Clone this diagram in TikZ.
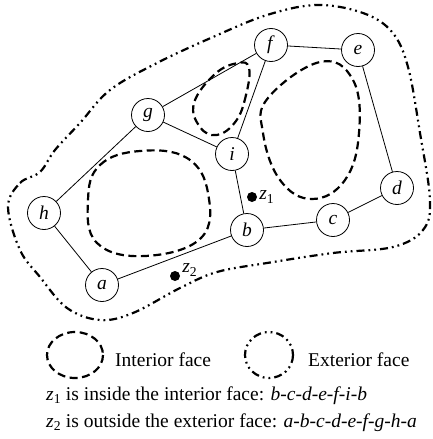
\documentclass[tikz,border=0pt]{standalone}
\usepackage{fontspec}
\setmainfont{Liberation Serif}
\usepackage{tikz}

\tikzset{
  vertex/.style={draw,circle,line width=0.8pt,minimum size=33pt,inner sep=0pt,fill=white},
  edge/.style={line width=0.8pt},
  inface/.style={line width=2.2pt,dash pattern=on 8pt off 4.5pt},
  exface/.style={line width=2.2pt,dash pattern=on 8pt off 4pt on 1.8pt off 4pt on 1.8pt off 4pt},
  point/.style={circle,fill,inner sep=0pt,minimum size=10pt},
}

\begin{document}
\begin{tikzpicture}[x=1pt,y=-1pt,font=\fontsize{19.5}{24}\selectfont]
  \useasboundingbox (0,0) rectangle (432,439);

  % exterior face
  \draw[exface] plot[smooth cycle,tension=0.6] coordinates {
    (8,207) (20,183) (40,172) (55,150) (80,123) (110,90) (157,63) (213,37)
    (267,15) (317,5) (363,13) (392,32) (408,67) (420,133) (430,200)
    (423,230) (393,247) (333,253) (267,263) (217,272) (180,288)
    (133,313) (100,320) (67,308) (40,277) (20,250)};

  % interior faces
  \draw[inface] plot[smooth cycle,tension=0.7] coordinates {
    (88,200) (100,165) (140,151) (187,158) (208,193) (201,238) (145,256) (97,243)};
  \draw[inface] plot[smooth cycle,tension=0.7] coordinates {
    (249,68) (246,95) (236,121) (217,135) (200,127) (194,103) (215,74) (238,63)};
  \draw[inface] plot[smooth cycle,tension=0.7] coordinates {
    (320,62) (353,80) (359,133) (345,180) (312,199) (280,180) (263,133) (268,98)};

  % vertices
  \node[vertex] (f) at (271,45)  {\textit{f}};
  \node[vertex] (e) at (358,50)  {\textit{e}};
  \node[vertex] (g) at (148,115) {\textit{g}};
  \node[vertex] (i) at (232,154) {\textit{i}};
  \node[vertex] (d) at (397,188) {\textit{d}};
  \node[vertex] (h) at (44,213)  {\textit{h}};
  \node[vertex] (c) at (333,220) {\textit{c}};
  \node[vertex] (b) at (247,230) {\textit{b}};
  \node[vertex] (a) at (102,285) {\textit{a}};

  \draw[edge] (f) -- (e);
  \draw[edge] (f) -- (g);
  \draw[edge] (f) -- (i);
  \draw[edge] (g) -- (i);
  \draw[edge] (g) -- (h);
  \draw[edge] (h) -- (a);
  \draw[edge] (a) -- (b);
  \draw[edge] (b) -- (i);
  \draw[edge] (b) -- (c);
  \draw[edge] (c) -- (d);
  \draw[edge] (d) -- (e);

  % test points
  \node[point] (z1) at (252,197) {};
  \node[anchor=west,inner sep=2pt] (z1lab) at (z1.east) {\textit{z}\textsubscript{1}};
  \node[point] (z2) at (175,276) {};
  \node[anchor=west,inner sep=2pt] (z2lab) at ([yshift=6pt]z2.east) {\textit{z}\textsubscript{2}};

  % legend
  \draw[inface] (75,355) ellipse [x radius=28,y radius=23];
  \node[anchor=base west,inner sep=0pt] (inlab) at (115,366) {Interior face};
  \draw[exface] (269,355) ellipse [x radius=24,y radius=23];
  \node[anchor=base west,inner sep=0pt] (exlab) at (308,366) {Exterior face};

  \node[anchor=base west,inner sep=0pt] (line1) at (46,400)
    {\textit{z}\textsubscript{1} is inside the interior face: \textit{b-c-d-e-f-i-b}};
  \node[anchor=base west,inner sep=0pt] (line2) at (46,427)
    {\textit{z}\textsubscript{2} is outside the exterior face: \textit{a-b-c-d-e-f-g-h-a}};
\end{tikzpicture}
\end{document}
